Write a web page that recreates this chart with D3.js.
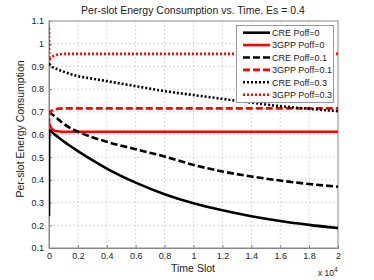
<!DOCTYPE html>
<html>
<head>
<meta charset="utf-8">
<script src="https://d3js.org/d3.v7.min.js"></script>
<style>
  body { margin: 0; background: #fff; }
  text { font-family: "Liberation Sans", Arial, sans-serif; fill: #222; }
</style>
</head>
<body>
<script>
// time slots (x axis, shown in units of 1e4)
var slots = [0, 20, 100, 300, 500, 1000, 2000, 3000, 4000, 6000, 8000, 10000, 12000, 14000, 16000, 18000, 20000];

var creP0   = [0.24, 0.62, 0.617, 0.605, 0.595, 0.57, 0.527, 0.487, 0.45, 0.388, 0.337, 0.297, 0.266, 0.240, 0.219, 0.202, 0.188];
var gppP0   = [0.645, 0.645, 0.635, 0.62, 0.614, 0.612, 0.612, 0.612, 0.612, 0.612, 0.612, 0.612, 0.612, 0.612, 0.612, 0.612, 0.612];
var creP01  = [0.70, 0.70, 0.695, 0.685, 0.675, 0.648, 0.612, 0.588, 0.568, 0.535, 0.503, 0.466, 0.437, 0.415, 0.397, 0.382, 0.370];
var gppP01  = [0.64, 0.69, 0.70, 0.708, 0.712, 0.715, 0.715, 0.715, 0.715, 0.715, 0.715, 0.715, 0.715, 0.715, 0.715, 0.715, 0.715];
var creP03  = [0.91, 0.91, 0.905, 0.895, 0.89, 0.877, 0.857, 0.846, 0.835, 0.813, 0.791, 0.774, 0.757, 0.740, 0.725, 0.713, 0.703];
var gppP03  = [1.07, 0.93, 0.935, 0.945, 0.95, 0.955, 0.955, 0.955, 0.955, 0.955, 0.955, 0.955, 0.955, 0.955, 0.955, 0.955, 0.955];

var seriesNames = ["CRE Poff=0", "3GPP Poff=0", "CRE Poff=0.1", "3GPP Poff=0.1", "CRE Poff=0.3", "3GPP Poff=0.3"];
var seriesVals = [creP0, gppP0, creP01, gppP01, creP03, gppP03];
var seriesColor = ["#000", "#f00", "#000", "#f00", "#000", "#f00"];
var seriesDash = [null, null, "7,3", "7,3", "2,2", "2,2"];

var xTicks = [0, 2000, 4000, 6000, 8000, 10000, 12000, 14000, 16000, 18000, 20000];
var yTicks = [0.1, 0.2, 0.3, 0.4, 0.5, 0.6, 0.7, 0.8, 0.9, 1, 1.1];

var W = 374, H = 280;
var mLeft = 49, mRight = 338, mTop = 21, mBottom = 248;

var svg = d3.select("body").append("svg")
    .attr("width", W).attr("height", H);

var x = d3.scaleLinear().domain([0, 20000]).range([mLeft, mRight]);
var y = d3.scaleLinear().domain([0.1, 1.1]).range([mBottom, mTop]);

// grid
svg.append("g").selectAll("line").data(xTicks.slice(1, -1)).enter().append("line")
    .attr("x1", d => x(d)).attr("x2", d => x(d))
    .attr("y1", mTop).attr("y2", mBottom)
    .attr("stroke", "#ccc").attr("stroke-width", 0.8).attr("stroke-dasharray", "2,2");
svg.append("g").selectAll("line").data(yTicks.slice(1, -1)).enter().append("line")
    .attr("x1", mLeft).attr("x2", mRight)
    .attr("y1", d => y(d)).attr("y2", d => y(d))
    .attr("stroke", "#ccc").attr("stroke-width", 0.8).attr("stroke-dasharray", "2,2");

// frame
svg.append("rect").attr("x", mLeft).attr("y", mTop)
    .attr("width", mRight - mLeft).attr("height", mBottom - mTop)
    .attr("fill", "none").attr("stroke", "#888").attr("stroke-width", 1);

// axes
var xAxis = d3.axisBottom(x).tickValues(xTicks).tickSize(-3).tickPadding(5)
    .tickFormat(d => d3.format("")(+(d / 10000).toFixed(1)));
var yAxis = d3.axisLeft(y).tickValues(yTicks).tickSize(-3).tickPadding(5)
    .tickFormat(d => d3.format("")(+d.toFixed(1)));

var gx = svg.append("g").attr("transform", "translate(0," + mBottom + ")").call(xAxis);
var gy = svg.append("g").attr("transform", "translate(" + mLeft + ",0)").call(yAxis);
[gx, gy].forEach(function (g) {
  g.select(".domain").attr("stroke", "#888");
  g.selectAll(".tick line").attr("stroke", "#888");
  g.selectAll("text").attr("font-size", 9).attr("font-family", "Liberation Sans, Arial, sans-serif").attr("fill", "#333");
});

// clip
svg.append("clipPath").attr("id", "clip").append("rect")
    .attr("x", mLeft).attr("y", mTop).attr("width", mRight - mLeft).attr("height", mBottom - mTop);

var line = d3.line()
    .x((d, i) => x(slots[i]))
    .y(d => y(d))
    .curve(d3.curveMonotoneX);

var plot = svg.append("g").attr("clip-path", "url(#clip)");
seriesVals.forEach(function (vals, i) {
  plot.append("path")
      .attr("d", line(vals))
      .attr("fill", "none")
      .attr("stroke", seriesColor[i])
      .attr("stroke-width", 2.6)
      .attr("stroke-dasharray", seriesDash[i]);
});

// legend
var lg = svg.append("g");
lg.append("rect").attr("x", 236.5).attr("y", 25.5).attr("width", 97).attr("height", 77)
    .attr("fill", "#fff").attr("stroke", "#999").attr("stroke-width", 1);
seriesNames.forEach(function (name, i) {
  var yy = 32.7 + i * 12.4;
  lg.append("line").attr("x1", 243).attr("x2", 270).attr("y1", yy).attr("y2", yy)
      .attr("stroke", seriesColor[i]).attr("stroke-width", 2.6)
      .attr("stroke-dasharray", seriesDash[i]);
  lg.append("text").attr("x", 272).attr("y", yy + 3.2).attr("font-size", 9).text(name);
});

// titles
svg.append("text").attr("x", 193).attr("y", 14).attr("text-anchor", "middle")
    .attr("font-size", 10.5).text("Per-slot Energy Consumption vs. Time. Es = 0.4");
svg.append("text").attr("x", 193).attr("y", 272).attr("text-anchor", "middle")
    .attr("font-size", 10.5).text("Time Slot");
svg.append("text").attr("transform", "translate(24,129) rotate(-90)")
    .attr("text-anchor", "middle").attr("font-size", 10.5).text("Per-slot Energy Consumption");
var ex = svg.append("text").attr("x", 318).attr("y", 276).attr("font-size", 8.5);
ex.append("tspan").text("x 10");
ex.append("tspan").attr("dy", -4).attr("font-size", 6.5).text("4");
</script>
</body>
</html>
